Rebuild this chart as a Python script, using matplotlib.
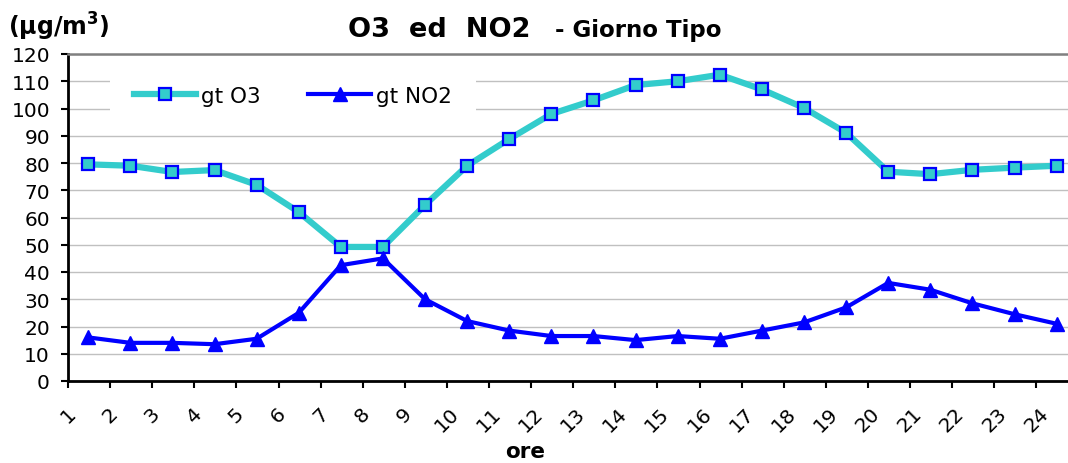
import matplotlib
matplotlib.use("Agg")
import matplotlib.pyplot as plt
import numpy as np

# hours of the typical day and hourly means (ug/m3)
hours = [str(h) for h in range(1, 25)]
o3 = [79.5, 79, 76.7, 77.4, 72, 62, 49.2, 49.2, 64.6, 79, 88.8, 98,
      103, 108.6, 110, 112.4, 107, 100.2, 91.1, 76.8, 75.9, 77.5, 78.3, 79]
no2 = [16, 14, 14, 13.5, 15.5, 25, 42.5, 45, 30, 22, 18.5, 16.5,
       16.5, 15, 16.5, 15.5, 18.5, 21.5, 27, 36, 33.5, 28.5, 24.5, 21]
y_ticks = list(range(0, 121, 10))

O3_COLOR = "#33CCCC"
NO2_COLOR = "#0000FF"

fig = plt.figure(figsize=(10.68, 4.64), dpi=100)
ax = fig.add_axes([68 / 1068, 1 - 382 / 464, 1000 / 1068, 327 / 464])

# points sit in the middle of each category, labels on the tick marks
x_ticks = np.arange(len(hours))
x_pts = x_ticks + 0.48

ax.plot(x_pts, o3, color=O3_COLOR, lw=4.5, marker="s", ms=8,
        mfc=O3_COLOR, mec=NO2_COLOR, mew=1.6, label="gt O3", zorder=3,
        solid_joinstyle="round")
ax.plot(x_pts, no2, color=NO2_COLOR, lw=3, marker="^", ms=10,
        mfc=NO2_COLOR, mec=NO2_COLOR, label="gt NO2", zorder=4)

ax.set_xlim(0, 23.75)
ax.set_ylim(0, 120)
ax.set_yticks(y_ticks)
ax.set_xticks(x_ticks)
ax.set_xticklabels(hours, rotation=45, ha="center", va="top")
ax.tick_params(axis="both", labelsize=14.5, direction="out", length=5,
               width=1.5, color="black")
ax.tick_params(axis="y", pad=8)
ax.tick_params(axis="x", pad=11)

ax.grid(axis="y", color="#c0c0c0", lw=1)
ax.set_axisbelow(True)
for side in ["left", "bottom"]:
    ax.spines[side].set_color("black")
    ax.spines[side].set_linewidth(2)
ax.spines["top"].set_color("#808080")
ax.spines["top"].set_linewidth(1.8)
ax.spines["right"].set_visible(False)

leg = ax.legend(loc="center left", bbox_to_anchor=(0.042, 0.872), ncol=2,
                fontsize=15.5, frameon=True, fancybox=False, framealpha=1,
                edgecolor="white", borderpad=1.1, borderaxespad=0,
                handlelength=2.9, handletextpad=0.25, columnspacing=2.2)
leg.get_frame().set_linewidth(0)

# title in two sizes, like the original
fig.text(348 / 1068, 1 - 30 / 464, "O3  ed  NO2", fontsize=19.5,
         fontweight="bold", ha="left", va="center")
fig.text(555 / 1068, 1 - 31 / 464, "- Giorno Tipo", fontsize=16.5,
         fontweight="bold", ha="left", va="center")

fig.text(8 / 1068, 1 - 27 / 464, r"(µg/m$^{\mathbf{3}}$)", fontsize=17,
         fontweight="bold", ha="left", va="center")
fig.text(525 / 1068, 1 - 462 / 464, "ore", fontsize=15.5,
         fontweight="bold", ha="center", va="bottom")

fig.savefig("out.png", dpi=100)
